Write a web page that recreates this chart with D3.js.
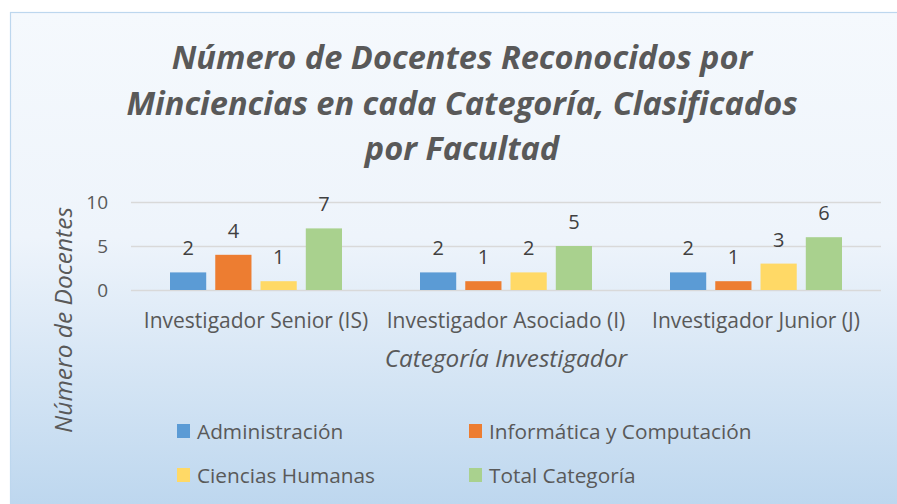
<!DOCTYPE html>
<html><head><meta charset="utf-8">
<script src="https://cdn.jsdelivr.net/npm/d3@7"></script>
<style>html,body{margin:0;padding:0;background:#fff;} svg{display:block;}</style>
</head><body>
<svg id="c" width="897" height="504"></svg>
<script>
const categories = ["Investigador Senior (IS)", "Investigador Asociado (I)", "Investigador Junior (J)"];
const seriesNames = ["Administración", "Informática y Computación", "Ciencias Humanas", "Total Categoría"];
const administracion = [2, 2, 2];
const informatica = [4, 1, 1];
const cienciasHumanas = [1, 2, 3];
const totalCategoria = [7, 5, 6];
const yTicks = [0, 5, 10];
const titleLines = ["Número de Docentes Reconocidos por", "Minciencias en cada Categoría, Clasificados", "por Facultad"];
const colors = ["#5B9BD5", "#ED7D31", "#FFD966", "#A9D18E"];

const seriesValues = [administracion, informatica, cienciasHumanas, totalCategoria];
const font = "'Open Sans', 'Noto Sans', sans-serif";
const svg = d3.select("#c");

const defs = svg.append("defs");
const grad = defs.append("linearGradient").attr("id", "bg").attr("x1", 0).attr("y1", 0).attr("x2", 0).attr("y2", 1);
grad.append("stop").attr("offset", "0%").attr("stop-color", "#F5F9FD");
grad.append("stop").attr("offset", "45%").attr("stop-color", "#EEF4FB");
grad.append("stop").attr("offset", "100%").attr("stop-color", "#BCD6EE");

svg.append("rect").attr("x", 10.5).attr("y", 12.5).attr("width", 900).attr("height", 500)
  .attr("fill", "url(#bg)").attr("stroke", "#BDD7EE").attr("stroke-width", 1.2);

// title
const title = svg.append("text").attr("font-family", font).attr("font-weight", "bold").attr("font-style", "italic")
  .attr("font-size", 32.6).attr("fill", "#595959").attr("text-anchor", "middle");
titleLines.forEach((t, i) => {
  title.append("tspan").attr("x", 462).attr("y", 69 + i * 45.5).text(t);
});

const plotL = 131, plotR = 881;
const x0 = d3.scaleBand().domain(categories).range([plotL, plotR]).paddingInner(0).paddingOuter(0);
const groupW = 172;
const x1 = d3.scaleBand().domain(d3.range(4)).range([0, groupW]).paddingInner(0.2).paddingOuter(0);
const y = d3.scaleLinear().domain([0, 10]).range([290, 202]);

// gridlines
svg.append("g").selectAll("line").data(yTicks).join("line")
  .attr("x1", plotL).attr("x2", plotR)
  .attr("y1", d => Math.round(y(d)) + 0.5).attr("y2", d => Math.round(y(d)) + 0.5)
  .attr("stroke", "#D9D9D9").attr("stroke-width", 1.3);

// y tick labels
svg.append("g").selectAll("text").data(yTicks).join("text")
  .attr("x", 108).attr("y", d => y(d) + 7)
  .attr("text-anchor", "end").attr("font-family", font).attr("font-size", 19).attr("fill", "#595959")
  .text(d => d);

// bars
const groups = svg.append("g").selectAll("g").data(categories).join("g")
  .attr("transform", c => `translate(${x0(c) + (x0.bandwidth() - groupW) / 2},0)`);
groups.each(function(c, ci) {
  const g = d3.select(this);
  seriesValues.forEach((vals, si) => {
    g.append("rect").attr("x", x1(si)).attr("width", x1.bandwidth())
      .attr("y", y(vals[ci])).attr("height", y(0) - y(vals[ci]))
      .attr("fill", colors[si]);
    g.append("text").attr("x", x1(si) + x1.bandwidth() / 2).attr("y", y(vals[ci]) - 17)
      .attr("text-anchor", "middle").attr("font-family", font).attr("font-size", 20).attr("fill", "#404040")
      .text(vals[ci]);
  });
});

// category labels
svg.append("g").selectAll("text").data(categories).join("text")
  .attr("x", c => x0(c) + x0.bandwidth() / 2).attr("y", 328)
  .attr("text-anchor", "middle").attr("font-family", font).attr("font-size", 21).attr("fill", "#595959")
  .text(c => c);

// axis titles
svg.append("text").attr("x", (plotL + plotR) / 2).attr("y", 367)
  .attr("text-anchor", "middle").attr("font-family", font).attr("font-style", "italic").attr("font-size", 24.3)
  .attr("fill", "#595959").text("Categoría Investigador");
svg.append("text").attr("transform", "translate(72,320) rotate(-90)")
  .attr("text-anchor", "middle").attr("font-family", font).attr("font-style", "italic").attr("font-size", 24.5)
  .attr("fill", "#595959").text("Número de Docentes");

// legend
const legPos = [[177, 431], [469, 431], [177, 475], [469, 475]];
const leg = svg.append("g").selectAll("g").data(seriesNames).join("g")
  .attr("transform", (d, i) => `translate(${legPos[i][0]},${legPos[i][1]})`);
leg.append("rect").attr("x", 0).attr("y", -7).attr("width", 13).attr("height", 14).attr("fill", (d, i) => colors[i]);
leg.append("text").attr("x", 20).attr("y", 7.5).attr("font-family", font).attr("font-size", 20.8).attr("fill", "#595959")
  .text(d => d);
</script>
</body></html>
